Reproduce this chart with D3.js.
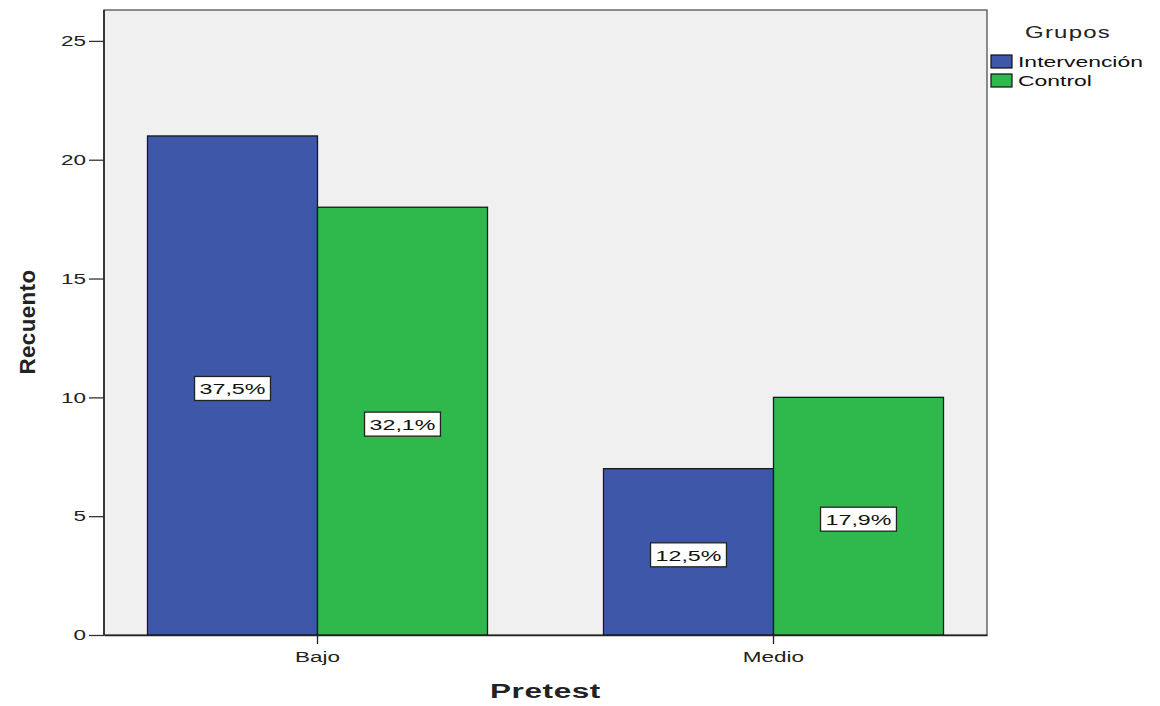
<!DOCTYPE html>
<html>
<head>
<meta charset="utf-8">
<script src="https://cdn.jsdelivr.net/npm/d3@7"></script>
<style>
  html, body { margin: 0; padding: 0; background: #fff; }
  svg { display: block; font-family: "Liberation Sans", Arial, sans-serif; }
</style>
</head>
<body>
<svg id="chart" width="1160" height="706"></svg>
<script>
// Recuento por nivel de pretest y grupo
const categories = ["Bajo", "Medio"];
const groups = ["Intervención", "Control"];
const intervencion = [21, 7];
const control = [18, 10];
const pctLabels = [["37,5%", "12,5%"], ["32,1%", "17,9%"]];
const yTicks = [0, 5, 10, 15, 20, 25];
const colors = ["#3e57a9", "#2fb84b"];

const series = [intervencion, control];

// horizontal widening of the text glyphs
const SX = 1.5;
function widen(sel) {
  sel.each(function () {
    const t = d3.select(this);
    const xv = +t.attr("x") || 0;
    t.attr("x", xv / SX).attr("transform", `scale(${SX},1)`);
  });
}

const svg = d3.select("#chart");
const margin = { left: 104, top: 10, right: 173, bottom: 71 };
const W = 1160, H = 706;
const plotW = W - margin.left - margin.right;
const plotH = H - margin.top - margin.bottom;

const g = svg.append("g").attr("transform", `translate(${margin.left},${margin.top})`);

const x = d3.scaleBand().domain(categories).range([0, plotW])
  .paddingInner(0.2544).paddingOuter(0.0954);
const xs = d3.scaleBand().domain(groups).range([0, x.bandwidth()]).padding(0);
const y = d3.scaleLinear().domain([0, 26.3]).range([plotH, 0]);

// plot background
g.append("rect").attr("x", 0).attr("y", 0).attr("width", plotW).attr("height", plotH)
  .attr("fill", "#f0f0f0").attr("stroke", "#444").attr("stroke-width", 1.2);

// bars
groups.forEach((grp, gi) => {
  g.selectAll(null).data(categories).enter().append("rect")
    .attr("x", (c) => x(c) + xs(grp))
    .attr("y", (c, i) => y(series[gi][i]))
    .attr("width", xs.bandwidth())
    .attr("height", (c, i) => y(0) - y(series[gi][i]))
    .attr("fill", colors[gi])
    .attr("stroke", "#1a1a1a").attr("stroke-width", 1.3);
});

// percentage labels
groups.forEach((grp, gi) => {
  categories.forEach((c, i) => {
    const cx = x(c) + xs(grp) + xs.bandwidth() / 2;
    const cy = y(series[gi][i] / 2) + 3;
    const lg = g.append("g").attr("transform", `translate(${cx},${cy})`);
    const t = lg.append("text").attr("text-anchor", "middle").attr("dy", "0.37em")
      .attr("font-size", 15.5).attr("fill", "#111").text(pctLabels[gi][i]);
    widen(t);
    const bb = t.node().getBBox();
    const w = bb.width * SX + 10;
    lg.insert("rect", "text")
      .attr("x", -w / 2).attr("y", -12).attr("width", w).attr("height", 24)
      .attr("fill", "#fff").attr("stroke", "#222").attr("stroke-width", 1.3);
  });
});

// y axis
const yAxis = g.append("g")
  .call(d3.axisLeft(y).tickValues(yTicks).tickSize(15).tickPadding(3));
yAxis.select(".domain").remove();
yAxis.selectAll(".tick line").attr("stroke", "#333").attr("stroke-width", 1.3);
yAxis.selectAll(".tick text").attr("font-size", 15).attr("fill", "#222")
  .attr("font-family", "Liberation Sans, Arial, sans-serif").call(widen);
g.append("line").attr("x1", 0).attr("x2", 0).attr("y1", 0).attr("y2", plotH)
  .attr("stroke", "#222").attr("stroke-width", 1.6);

// x axis
const xAxis = g.append("g").attr("transform", `translate(0,${plotH})`)
  .call(d3.axisBottom(x).tickSize(9).tickPadding(7).tickSizeOuter(0));
xAxis.select(".domain").attr("stroke", "#222").attr("stroke-width", 1.6);
xAxis.selectAll(".tick line").attr("stroke", "#222").attr("stroke-width", 1.3);
xAxis.selectAll(".tick text").attr("font-size", 15).attr("fill", "#222")
  .attr("font-family", "Liberation Sans, Arial, sans-serif").call(widen);

// axis titles
svg.append("text").attr("x", margin.left + plotW / 2).attr("y", 698)
  .attr("text-anchor", "middle").attr("font-size", 21).attr("font-weight", "bold")
  .attr("fill", "#222").attr("letter-spacing", 0.4).text("Pretest").call(widen);
svg.append("text")
  .attr("transform", `translate(35,${margin.top + 312}) rotate(-90) scale(1,1.35)`)
  .attr("text-anchor", "middle").attr("font-size", 17).attr("font-weight", "bold")
  .attr("fill", "#222").attr("letter-spacing", 0.3)
  .attr("textLength", 105).attr("lengthAdjust", "spacingAndGlyphs")
  .text("Recuento");

// legend
const leg = svg.append("g").attr("transform", "translate(991,0)");
leg.append("text").attr("x", 77).attr("y", 38).attr("text-anchor", "middle")
  .attr("font-size", 16).attr("fill", "#222").attr("letter-spacing", 0.8).text("Grupos").call(widen);
groups.forEach((grp, gi) => {
  const row = leg.append("g").attr("transform", `translate(0,${55 + gi * 19})`);
  row.append("rect").attr("width", 21).attr("height", 13)
    .attr("fill", colors[gi]).attr("stroke", "#111").attr("stroke-width", 1.2);
  row.append("text").attr("x", 27).attr("y", 12).attr("font-size", 15.3)
    .attr("fill", "#111").text(grp).call(widen);
});
</script>
</body>
</html>
